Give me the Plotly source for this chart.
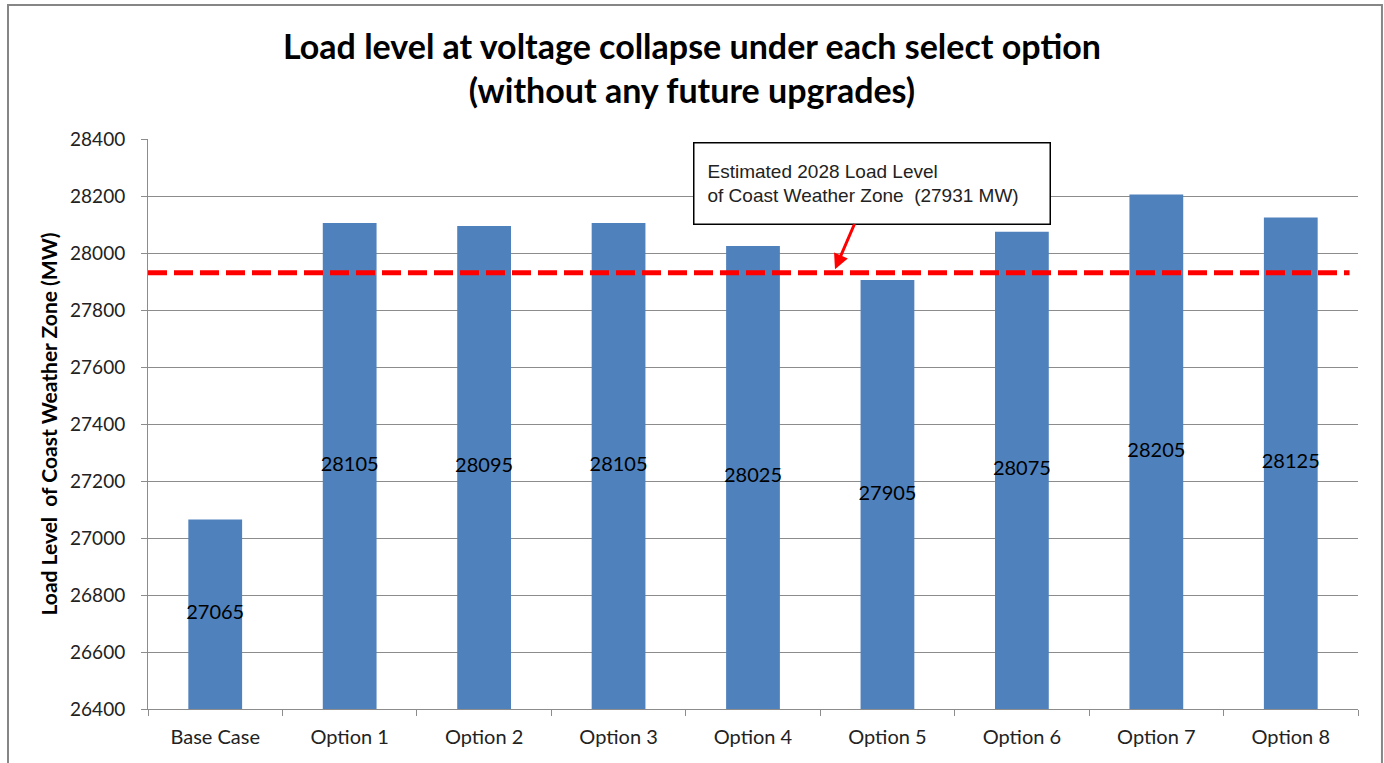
import plotly.graph_objects as go

categories = ['Base Case', 'Option 1', 'Option 2', 'Option 3', 'Option 4',
              'Option 5', 'Option 6', 'Option 7', 'Option 8']
load_mw = [27065, 28105, 28095, 28105, 28025, 27905, 28075, 28205, 28125]
est_2028_load = 27931
y_min, y_max = 26400, 28400

bar_color = '#4F81BD'
grid_color = '#8C8C8C'

fig = go.Figure()
fig.add_trace(go.Bar(x=categories, y=load_mw, marker=dict(color=bar_color, line=dict(width=0)),
                     width=0.4, showlegend=False))
# value labels sit halfway up each bar (from the axis floor)
fig.add_trace(go.Scatter(x=categories, y=[(y_min + v) / 2 for v in load_mw], mode='text',
                         text=[str(v) for v in load_mw], textfont=dict(family='Lato', size=20, color='black'),
                         showlegend=False, hoverinfo='skip'))

fig.add_shape(type='line', xref='paper', yref='y', x0=0, x1=0.993, y0=est_2028_load, y1=est_2028_load,
              line=dict(color='#FF0000', width=5, dash='19px,7px'))

fig.add_annotation(x=4.61, y=est_2028_load + 12, xref='x', yref='y',
                   text='Estimated 2028 Load Level<br>of Coast Weather Zone  (27931 MW)',
                   showarrow=True, ax=37, ay=-86, arrowcolor='#FF0000', arrowwidth=3,
                   arrowhead=2, arrowsize=1,
                   font=dict(family='Liberation Sans', size=19, color='#222222'),
                   align='left', bgcolor='white', bordercolor='black', borderwidth=1.5,
                   width=329, height=54, borderpad=13)

# outer chart border
fig.add_shape(type='rect', xref='paper', yref='paper', x0=-0.1157, x1=1.0198, y0=-0.2, y1=1.2351,
              line=dict(color='#868686', width=2), fillcolor='rgba(0,0,0,0)', layer='above')

fig.update_layout(
    width=1384, height=763,
    margin=dict(l=148, r=26, t=139, b=54),
    paper_bgcolor='white', plot_bgcolor='white',
    title=dict(text='Load level at voltage collapse under each select option<br>(without any future upgrades)',
               xref='paper', xanchor='center', y=1 - 59 / 763, yanchor='middle',
               font=dict(family='Lato', size=34, color='black', weight='bold')),
    font=dict(family='Lato', size=19, color='#222222'),
)
fig.update_layout(title_x=(692 - 148) / 1210)

fig.update_xaxes(showline=True, linecolor=grid_color, linewidth=1, ticks='outside', tickson='boundaries',
                 ticklen=6, tickcolor=grid_color, showgrid=False, ticklabelstandoff=10,
                 tickfont=dict(family='Lato', size=20, color='#222222'))
fig.update_yaxes(range=[y_min, y_max], dtick=200, showline=True, linecolor=grid_color, linewidth=1,
                 ticks='outside', ticklen=6, tickcolor=grid_color, showgrid=True, gridcolor=grid_color,
                 gridwidth=1, zeroline=False, tickformat='d', ticklabelstandoff=12,
                 tickfont=dict(family='Lato', size=19, color='#222222'),
                 title=dict(text='Load Level  of Coast Weather Zone (MW)', standoff=6,
                            font=dict(family='Lato', size=21, color='black', weight='bold')))

fig.write_html("out.html", config={'displayModeBar': False},
               post_script="document.body.style.margin='0';")
